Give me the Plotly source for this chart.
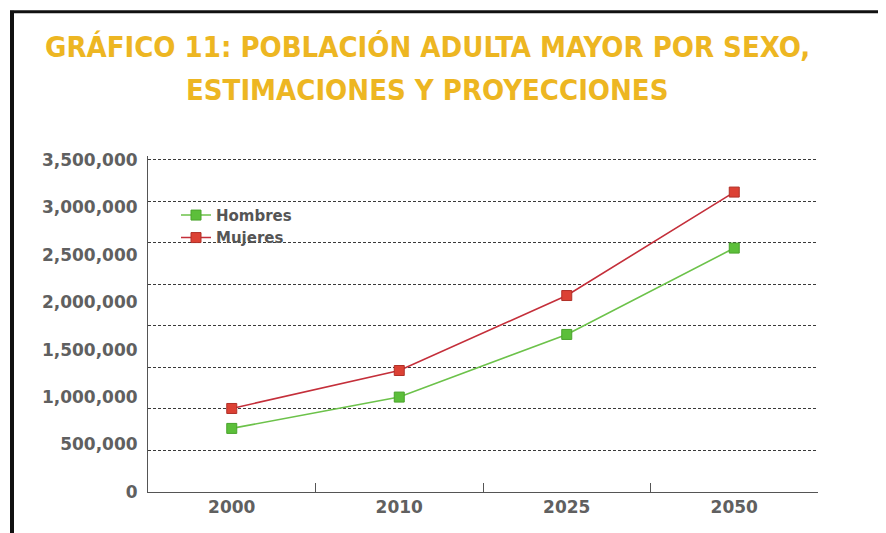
import plotly.graph_objects as go

years = ["2000", "2010", "2025", "2050"]
hombres = [670000, 1000000, 1660000, 2570000]
mujeres = [880000, 1280000, 2070000, 3160000]
y_tick_vals = [0, 500000, 1000000, 1500000, 2000000, 2500000, 3000000, 3500000]
y_tick_text = ["0", "500,000", "1,000,000", "1,500,000", "2,000,000", "2,500,000", "3,000,000", "3,500,000"]
grid_vals = [437500, 875000, 1312500, 1750000, 2187500, 2625000, 3062500, 3500000]
title_lines = ["GRÁFICO 11: POBLACIÓN ADULTA MAYOR POR SEXO,", "ESTIMACIONES Y PROYECCIONES"]

OFF = 8  # page body margin
YMAX = 3540000
# 3.5M sits at y=160 and 0 at y=492 in the reference
PLOT_H = (492 - 160) * YMAX / 3500000
W, H = 886 - OFF, 533 - OFF
L, R, B = 148 - OFF, 818 - OFF, 492 - OFF
T = B - PLOT_H

def px(x):
    return (x - OFF - L) / (R - L)

def py(y):
    return (B - (y - OFF)) / (B - T)

green_line = "#6cc24a"
green_mark = "#5cbf3a"
red_line = "#c42f3a"
red_mark = "#dc4134"
tick_font = dict(family="DejaVu Sans", size=17, color="#606060", weight="bold")

fig = go.Figure()
fig.add_trace(go.Scatter(
    x=years, y=hombres, name="Hombres", mode="lines+markers",
    line=dict(color=green_line, width=1.6),
    marker=dict(symbol="square", size=10, color=green_mark, line=dict(color="#4aa32c", width=1)),
))
fig.add_trace(go.Scatter(
    x=years, y=mujeres, name="Mujeres", mode="lines+markers",
    line=dict(color=red_line, width=1.6),
    marker=dict(symbol="square", size=10, color=red_mark, line=dict(color="#b03028", width=1)),
))
# transparent copy on the grid axis so that it is drawn
fig.add_trace(go.Scatter(
    x=years, y=hombres, yaxis="y2", mode="lines", showlegend=False,
    hoverinfo="skip", line=dict(color="rgba(0,0,0,0)", width=0),
))

for i, t in enumerate(title_lines):
    fig.add_annotation(
        text="<b>" + t + "</b>", x=px(427), y=py([47, 90][i]),
        xref="paper", yref="paper", xanchor="center", yanchor="middle",
        showarrow=False,
        font=dict(family="DejaVu Sans Condensed, DejaVu Sans", size=29, color="#edb622"),
    )

# frame of the scanned page
fig.add_shape(type="line", xref="paper", yref="paper", x0=px(10), x1=px(886), y0=py(12), y1=py(12),
              line=dict(color="#111", width=3))
fig.add_shape(type="line", xref="paper", yref="paper", x0=px(12), x1=px(12), y0=py(11), y1=py(533),
              line=dict(color="#111", width=4))

fig.update_layout(
    width=W, height=H,
    margin=dict(l=L, r=W - R, t=T, b=H - B),
    paper_bgcolor="white", plot_bgcolor="white",
    showlegend=True,
    legend=dict(x=px(176), y=py(199), xanchor="left", yanchor="top",
                font=dict(family="DejaVu Sans", size=15, color="#555555", weight="bold"),
                bgcolor="rgba(0,0,0,0)", tracegroupgap=0),
    xaxis=dict(
        type="category", range=[-0.5, 3.5], tickson="boundaries", ticks="inside", ticklen=9,
        tickcolor="#555", showline=True, linecolor="#555", linewidth=1,
        showgrid=False, tickfont=tick_font, mirror=False,
    ),
    yaxis=dict(
        range=[0, YMAX], tickvals=y_tick_vals, ticktext=y_tick_text,
        showgrid=False, zeroline=False, showline=True, linecolor="#555", linewidth=1,
        ticks="", tickfont=tick_font, ticklabelstandoff=6,
    ),
    yaxis2=dict(
        overlaying="y", range=[0, YMAX], tickvals=grid_vals, showticklabels=False,
        showgrid=True, gridcolor="#3a3a3a", gridwidth=1, griddash="3px,2px",
        zeroline=False, showline=False, ticks="",
    ),
)

fig.write_html("out.html")
